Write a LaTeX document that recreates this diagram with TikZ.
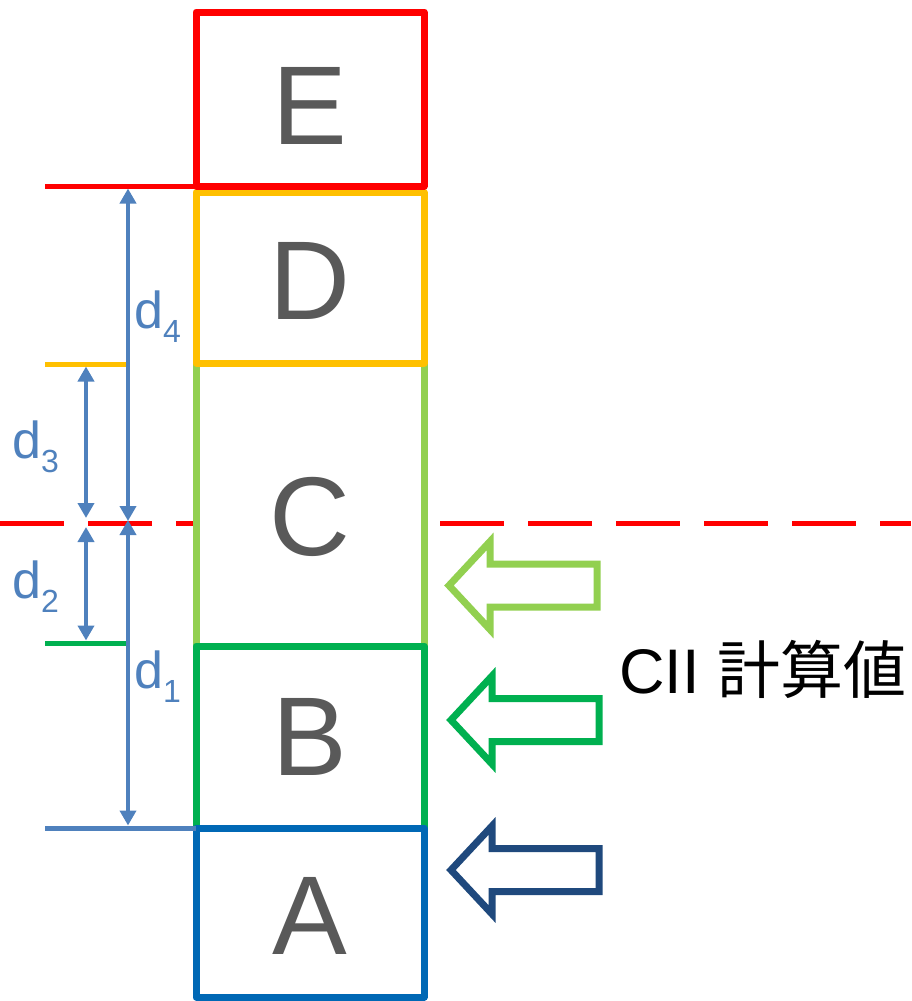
\documentclass[tikz,border=0pt]{standalone}
\usepackage{fontspec}
\setmainfont{Liberation Sans}
\newfontfamily\cjk{Noto Sans CJK JP}
\usetikzlibrary{arrows.meta}
\definecolor{cRed}{HTML}{FF0000}
\definecolor{cYel}{HTML}{FFC000}
\definecolor{cLG}{HTML}{92D050}
\definecolor{cG}{HTML}{00B050}
\definecolor{cBlue}{HTML}{0068B5}
\definecolor{cNavy}{HTML}{1F497D}
\definecolor{cDim}{HTML}{4F81BD}
\definecolor{cGray}{HTML}{595959}
\newcommand\dlab[1]{d\raisebox{-14pt}{\fontsize{32}{32}\selectfont #1}}
\begin{document}
\begin{tikzpicture}[x=1pt,y=-1pt,
 box/.style={draw, fill=white, line width=7pt, minimum width=228pt, inner sep=0pt, outer sep=0pt, line join=round},
 letter/.style={text=cGray, font=\fontsize{112}{112}\selectfont, inner sep=0pt},
 ref/.style={line width=5pt},
 dim/.style={draw=cDim, line width=4pt, {Triangle[length=15pt,width=16pt]}-{Triangle[length=15pt,width=16pt]}},
 dlab/.style={text=cDim, font=\fontsize{52}{52}\selectfont, anchor=base west, inner sep=0pt},
 barrow/.style={line width=7pt, fill=white, line join=miter}]
\useasboundingbox (0,0) rectangle (911,1001);
% dashed reference line
\coordinate (dL) at (0,523);
\coordinate (dR) at (911,523);
\draw[cRed, line width=5pt, dash pattern=on 64pt off 24pt] (dL) -- (dR);
% boxes
\node[box, draw=cLG, minimum height=283pt] (C) at (310,504.5) {};
\node[box, draw=cYel, minimum height=171pt] (D) at (310,277.5) {};
\node[box, draw=cRed, minimum height=174pt] (E) at (310,99) {};
\node[box, draw=cG, minimum height=182pt] (B) at (310,737) {};
\node[box, draw=cBlue, minimum height=169pt] (A) at (310,912.5) {};
\node[letter] (lE) at (310,106) {E};
\node[letter] (lD) at (310,281) {D};
\node[letter] (lC) at (310,517) {C};
\node[letter] (lB) at (310,737) {B};
\node[letter] (lA) at (310,916) {A};
% level lines
\coordinate (rL) at (45,186);
\draw[ref, cRed] (rL) -- (E.south west);
\coordinate (yL) at (45,364);
\coordinate (yR) at (130,364);
\draw[ref, cYel] (yL) -- (yR);
\coordinate (gL) at (45,643);
\coordinate (gR) at (128,643);
\draw[ref, cG] (gL) -- (gR);
\coordinate (bL) at (45,828);
\draw[ref, cDim] (bL) -- (A.north west);
% dimension arrows
\coordinate (d4t) at (128,188.5);
\coordinate (d4b) at (128,521);
\coordinate (d3t) at (86,366.5);
\coordinate (d3b) at (86,518);
\coordinate (d2t) at (86,527);
\coordinate (d2b) at (86,640.5);
\coordinate (d1t) at (128,520);
\coordinate (d1b) at (128,825.5);
\draw[dim] (d4t) -- (d4b);
\draw[dim] (d3t) -- (d3b);
\draw[dim] (d2t) -- (d2b);
\draw[dim] (d1t) -- (d1b);
\node[dlab] (l4) at (134,328) {\dlab{4}};
\node[dlab] (l3) at (12,458) {\dlab{3}};
\node[dlab] (l2) at (12,598) {\dlab{2}};
\node[dlab] (l1) at (134,688) {\dlab{1}};
% block arrows
\coordinate (tC) at (449,585.5);
\coordinate (tB) at (451,720);
\coordinate (tA) at (451,870);
\draw[barrow, draw=cLG] (tC) -- ++(41,-44) -- ++(0,22.5) -- ++(107,0) -- ++(0,43) -- ++(-107,0) -- ++(0,22.5) -- cycle;
\draw[barrow, draw=cG] (tB) -- ++(41,-44) -- ++(0,22.5) -- ++(107,0) -- ++(0,43) -- ++(-107,0) -- ++(0,22.5) -- cycle;
\draw[barrow, draw=cNavy] (tA) -- ++(41,-44) -- ++(0,22.5) -- ++(107,0) -- ++(0,43) -- ++(-107,0) -- ++(0,22.5) -- cycle;
% label
\node[anchor=base west, inner sep=0pt, font=\fontsize{63}{63}\selectfont] (cii) at (619,693) {CII {\cjk 計算値}};
\end{tikzpicture}
\end{document}
